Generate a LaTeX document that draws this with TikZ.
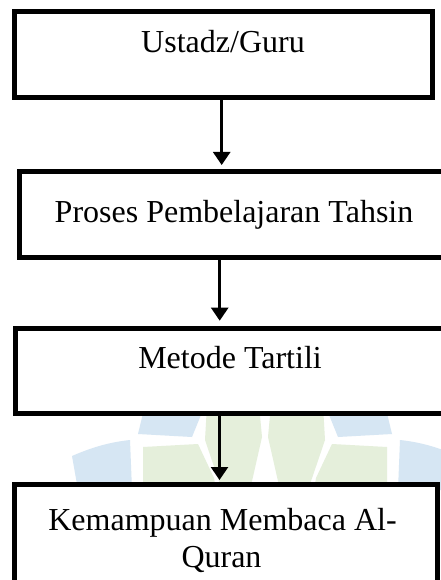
\documentclass[tikz,border=0pt]{standalone}
\usepackage{fontspec}
\setmainfont{Liberation Serif}
\usetikzlibrary{arrows.meta}
\definecolor{wmblue}{RGB}{214,230,243}
\definecolor{wmgreen}{RGB}{229,239,219}
\tikzset{
  box/.style={draw=black, line width=5pt, fill=white, inner sep=0pt},
  lbl/.style={anchor=base, inner sep=0pt, font=\fontsize{32}{37}\selectfont},
  arr/.style={draw=black, line width=2.5pt, -{Triangle[width=17pt,length=13pt]}},
  wmb/.style={fill=wmblue, draw=none},
  wmg/.style={fill=wmgreen, draw=none}
}
\begin{document}
\begin{tikzpicture}[x=1pt,y=-1pt]
\useasboundingbox (0,0) rectangle (441,580);
\fill[white] (0,0) rectangle (441,580);
% watermark (left half)
\fill[wmb] (145,405) -- (205,405) -- (192,437) -- (138,434) -- cycle;
\fill[wmb] (72,456) .. controls (95,446) and (112,442) .. (130,440) -- (132,490) -- (78,490) -- cycle;
\fill[wmg] (143,447) -- (198,444) -- (214,478) -- (216,490) -- (143,490) -- cycle;
\fill[wmg] (207,405) -- (259,405) -- (262,437) -- (250,490) -- (222,490) -- (205,440) -- cycle;
% watermark (right half, mirrored about x=265)
\fill[wmb] (385,405) -- (325,405) -- (338,437) -- (392,434) -- cycle;
\fill[wmb] (458,456) .. controls (435,446) and (418,442) .. (400,440) -- (398,490) -- (452,490) -- cycle;
\fill[wmg] (387,447) -- (332,444) -- (316,478) -- (314,490) -- (387,490) -- cycle;
\fill[wmg] (323,405) -- (271,405) -- (268,437) -- (280,490) -- (308,490) -- (325,440) -- cycle;
% boxes
\node[box, minimum width=418.2pt, minimum height=85.8pt] (b1) at (223.4,54.6) {};
\node[box, minimum width=429.7pt, minimum height=86.5pt] (b2) at (234.2,214.25) {};
\node[box, minimum width=429pt, minimum height=85pt] (b3) at (230,370.5) {};
\node[box, minimum width=423pt, minimum height=98pt] (b4) at (226,533) {};
% texts
\node[lbl] (t1) at (223,53) {Ustadz/Guru};
\node[lbl] (t2) at (234,222) {Proses Pembelajaran Tahsin};
\node[lbl] (t3) at (230,368) {Metode Tartili};
\node[lbl] (t4a) at (222.5,530) {Kemampuan Membaca Al-};
\node[lbl] (t4b) at (221.5,567) {Quran};
% arrows
\draw[arr, shorten >=3.5pt] ([xshift=-1.7pt]b1.south) -- ([xshift=-12.5pt]b2.north);
\draw[arr, shorten >=4.8pt] ([xshift=-14.5pt]b2.south) -- ([xshift=-10.3pt]b3.north);
\draw[arr, shorten >=1.5pt] ([xshift=-10.5pt]b3.south) -- ([xshift=-6.5pt]b4.north);
\end{tikzpicture}
\end{document}
